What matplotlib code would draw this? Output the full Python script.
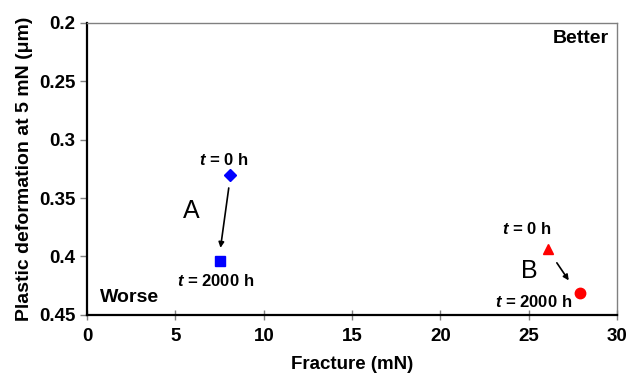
import matplotlib.pyplot as plt
from matplotlib.ticker import FuncFormatter

plt.rcParams['font.family'] = ['Liberation Sans', 'DejaVu Sans']
plt.rcParams['mathtext.fontset'] = 'custom'
plt.rcParams['mathtext.it'] = 'Liberation Sans:italic:bold'
plt.rcParams['mathtext.rm'] = 'Liberation Sans:bold'

# sample A: t = 0 h and t = 2000 h
a_fracture = [8.1, 7.5]
a_plastic = [0.330, 0.404]
# sample B
b_fracture = [26.1, 27.9]
b_plastic = [0.394, 0.431]

fig = plt.figure(figsize=(6.31, 3.77), dpi=100)
ax = fig.add_axes([0.138, 0.165, 0.840, 0.774])

ax.plot(a_fracture[0], a_plastic[0], 'D', color='#0000ff', markersize=6)
ax.plot(a_fracture[1], a_plastic[1], 's', color='#0000ff', markersize=7.5)
ax.plot(b_fracture[0], b_plastic[0], '^', color='#ff0000', markersize=7.5)
ax.plot(b_fracture[1], b_plastic[1], 'o', color='#ff0000', markersize=7.5)

arr = dict(arrowstyle='-|>', color='black', lw=1.2, mutation_scale=8)
ax.annotate('', xy=(7.53, 0.395), xytext=(8.04, 0.339), arrowprops=arr)
ax.annotate('', xy=(27.35, 0.4225), xytext=(26.5, 0.4035), arrowprops=arr)

lab = dict(fontsize=12, fontweight='bold', ha='center', va='center')
ax.text(7.75, 0.3177, r'$t$ = 0 h', **lab)
ax.text(7.3, 0.4212, r'$t$ = 2000 h', **lab)
ax.text(24.9, 0.3761, r'$t$ = 0 h', **lab)
ax.text(25.3, 0.4393, r'$t$ = 2000 h', **lab)
ax.text(5.91, 0.3615, 'A', fontsize=18, ha='center', va='center')
ax.text(25.04, 0.4122, 'B', fontsize=18, ha='center', va='center')
ax.text(29.54, 0.2133, 'Better', fontsize=14, fontweight='bold', ha='right', va='center')
ax.text(0.74, 0.435, 'Worse', fontsize=14, fontweight='bold', ha='left', va='center')

ax.set_xlim(0, 30)
ax.set_ylim(0.45, 0.2)
ax.set_xticks([0, 5, 10, 15, 20, 25, 30])
ax.set_yticks([0.2, 0.25, 0.3, 0.35, 0.4, 0.45])
ax.yaxis.set_major_formatter(FuncFormatter(lambda v, p: '%g' % v))
ax.tick_params(labelsize=13.5, width=1, length=5, color='#808080')
ax.tick_params(axis='x', direction='inout', length=7, pad=6)
ax.tick_params(axis='y', direction='out')
for t in ax.get_xticklabels() + ax.get_yticklabels():
    t.set_fontweight('bold')

ax.spines['left'].set_linewidth(1.6)
ax.spines['bottom'].set_linewidth(1.6)
ax.spines['top'].set_linewidth(1)
ax.spines['right'].set_linewidth(1)
ax.spines['top'].set_color('#808080')
ax.spines['right'].set_color('#808080')

ax.set_xlabel('Fracture (mN)', fontsize=13.5, fontweight='bold', labelpad=8)
ax.set_ylabel('Plastic deformation at 5 mN (\u03bcm)', fontsize=14, fontweight='bold')

plt.savefig('out.png', dpi=100)
